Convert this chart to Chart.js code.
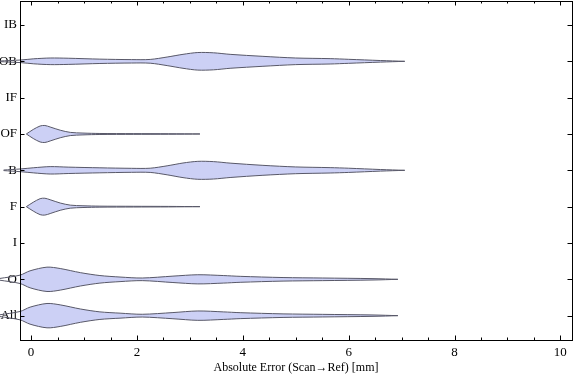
<!DOCTYPE html>
<html lang="en">
<head>
    <meta charset="UTF-8">
    <title>Violin</title>
    <script src="https://cdn.jsdelivr.net/npm/chart.js"></script>
    <style>
        body { margin: 0; background: #fff; }
        #box { width: 576px; height: 381px; }
    </style>
</head>
<body>
    <div id="box"><canvas id="myChart"></canvas></div>

<script>
    // categories, top to bottom
    const categorias = ['IB', 'OB', 'IF', 'OF', 'B', 'F', 'I', 'O', 'All'];
    const xTicks = [0, 2, 4, 6, 8, 10];

    // each violin: x in mm, half width in y-axis units
    const obX = [-0.6, -0.2, 0.05, 0.36, 0.7, 1.3, 1.9, 2.25, 2.57, 2.87, 3.15, 3.45, 3.76, 4.38, 5.0, 5.65, 6.0, 6.6, 7.06];
    const obW = [0.008, 0.036, 0.069, 0.091, 0.085, 0.060, 0.047, 0.052, 0.118, 0.192, 0.242, 0.234, 0.192, 0.137, 0.091, 0.074, 0.055, 0.022, 0];

    const ofX = [-0.09, 0.04, 0.17, 0.26, 0.36, 0.55, 0.74, 0.98, 1.3, 1.93, 2.6, 3.19];
    const ofW = [0, 0.124, 0.220, 0.234, 0.192, 0.104, 0.044, 0.025, 0.014, 0.010, 0.007, 0];

    const bX = [-0.52, -0.2, 0.05, 0.36, 0.7, 1.3, 1.9, 2.25, 2.57, 2.87, 3.15, 3.45, 3.76, 4.38, 5.0, 5.65, 6.0, 6.6, 7.06];
    const bW = [0.008, 0.038, 0.071, 0.102, 0.088, 0.069, 0.055, 0.058, 0.124, 0.201, 0.247, 0.239, 0.198, 0.137, 0.093, 0.074, 0.058, 0.022, 0];

    const fX = [-0.09, 0.04, 0.17, 0.26, 0.36, 0.55, 0.74, 0.98, 1.3, 1.93, 2.6, 3.19];
    const fW = [0, 0.121, 0.220, 0.232, 0.190, 0.100, 0.042, 0.024, 0.014, 0.010, 0.007, 0];

    const oX = [-0.6, -0.21, -0.02, 0.3, 0.55, 0.93, 1.3, 1.68, 2.1, 2.68, 3.15, 3.63, 3.95, 4.76, 5.51, 6.46, 6.93];
    const oW = [0.022, 0.115, 0.234, 0.335, 0.297, 0.184, 0.104, 0.063, 0.036, 0.088, 0.126, 0.104, 0.082, 0.049, 0.036, 0.019, 0];

    const allX = [-0.6, -0.21, -0.02, 0.3, 0.55, 0.93, 1.3, 1.68, 2.1, 2.68, 3.15, 3.63, 3.95, 4.76, 5.51, 6.46, 6.93];
    const allW = [0.022, 0.115, 0.234, 0.335, 0.297, 0.184, 0.104, 0.069, 0.038, 0.085, 0.129, 0.104, 0.082, 0.049, 0.036, 0.019, 0];

    const corFundo = 'rgb(204, 208, 245)';
    const corBorda = 'rgb(88, 88, 104)';
    const fonte = '"Liberation Serif", "Times New Roman", serif';

    function violino(nome, xs, ws) {
        const pos = categorias.length - categorias.indexOf(nome);
        const base = {
            borderColor: corBorda,
            borderWidth: 1,
            pointRadius: 0,
            tension: 0.3,
            clip: false
        };
        return [
            Object.assign({}, base, {
                label: nome,
                data: xs.map((x, i) => ({ x: x, y: pos - ws[i] })),
                fill: false
            }),
            Object.assign({}, base, {
                label: nome,
                data: xs.map((x, i) => ({ x: x, y: pos + ws[i] })),
                fill: '-1',
                backgroundColor: corFundo
            })
        ];
    }

    const datasets = [].concat(
        violino('OB', obX, obW),
        violino('OF', ofX, ofW),
        violino('B', bX, bW),
        violino('F', fX, fW),
        violino('O', oX, oW),
        violino('All', allX, allW)
    );

    // frame with inward ticks (Mathematica style)
    const moldura = {
        id: 'moldura',
        afterDraw(chart) {
            const c = chart.ctx;
            const a = chart.chartArea;
            const sx = chart.scales.x;
            const sy = chart.scales.y;
            c.save();
            c.strokeStyle = '#000';
            c.lineWidth = 1;
            c.strokeRect(a.left + 0.5, a.top + 0.5, a.right - a.left, a.bottom - a.top);
            c.beginPath();
            for (let v = 0; v <= 10; v += 0.5) {
                const px = Math.round(sx.getPixelForValue(v)) + 0.5;
                const len = xTicks.includes(v) ? 4.5 : 2.5;
                c.moveTo(px, a.bottom);
                c.lineTo(px, a.bottom - len);
                c.moveTo(px, a.top);
                c.lineTo(px, a.top + len);
            }
            categorias.forEach((cat, i) => {
                const py = Math.round(sy.getPixelForValue(categorias.length - i)) + 0.5;
                c.moveTo(a.left, py);
                c.lineTo(a.left + 4.5, py);
                c.moveTo(a.right, py);
                c.lineTo(a.right - 4.5, py);
            });
            c.stroke();
            c.restore();
        }
    };

    new Chart(document.getElementById('myChart'), {
        type: 'line',
        data: { datasets: datasets },
        options: {
            responsive: true,
            maintainAspectRatio: false,
            animation: false,
            devicePixelRatio: 1,
            layout: { padding: { left: 0, right: 4, top: 1, bottom: 0 } },
            elements: { line: { capBezierPoints: false } },
            plugins: {
                legend: { display: false },
                tooltip: { enabled: false }
            },
            scales: {
                x: {
                    type: 'linear',
                    min: -0.21,
                    max: 10.22,
                    afterBuildTicks: (s) => { s.ticks = xTicks.map(v => ({ value: v })); },
                    afterFit: (s) => {
                        s.height = 41;
                        s.paddingLeft = 0;
                        s.paddingRight = 0;
                    },
                    grid: { display: false, drawTicks: false },
                    border: { display: false },
                    ticks: {
                        autoSkip: false,
                        maxRotation: 0,
                        padding: 5,
                        color: '#000',
                        font: { family: fonte, size: 13 }
                    },
                    title: {
                        display: true,
                        text: 'Absolute Error (Scan\u2192Ref) [mm]',
                        color: '#000',
                        font: { family: fonte, size: 12 },
                        padding: { top: 0, bottom: 6 }
                    }
                },
                y: {
                    type: 'linear',
                    min: 0.33,
                    max: 9.66,
                    afterBuildTicks: (s) => {
                        s.ticks = categorias.map((c, i) => ({ value: categorias.length - i }));
                    },
                    afterFit: (s) => {
                        s.width = 20;
                        s.paddingTop = 0;
                        s.paddingBottom = 0;
                    },
                    grid: { display: false, drawTicks: false },
                    border: { display: false },
                    ticks: {
                        autoSkip: false,
                        padding: 3,
                        color: '#000',
                        font: { family: fonte, size: 13 },
                        callback: (v) => categorias[categorias.length - v]
                    }
                }
            }
        },
        plugins: [moldura]
    });
</script>
</body>
</html>
